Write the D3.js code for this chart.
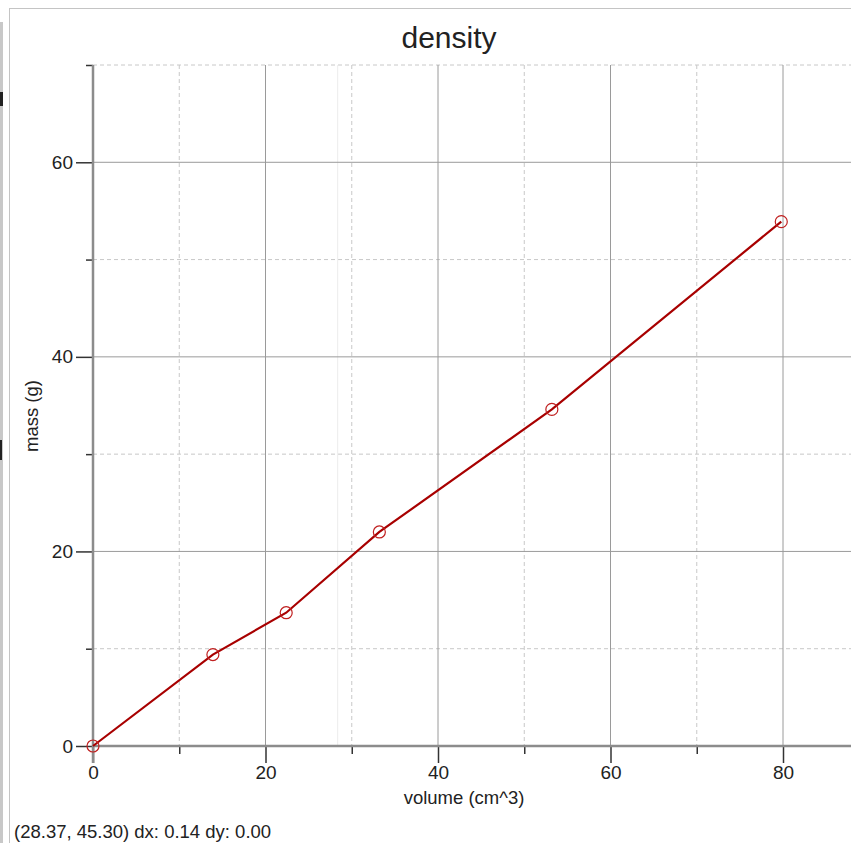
<!DOCTYPE html>
<html lang="en">
<head>
    <meta charset="UTF-8">
    <title>density</title>
    <script src="https://d3js.org/d3.v7.min.js"></script>
    <style>
        body { margin: 0; background: #fff; }
        text { font-family: "Liberation Sans", Arial, sans-serif; fill: #222; }
    </style>
</head>
<body>
    <svg width="851" height="843"></svg>

    <script>
        // Data
        const volume = [0, 13.9, 22.4, 33.2, 53.2, 79.8];
        const mass = [0, 9.4, 13.7, 22.0, 34.6, 53.9];
        const xMajorTicks = [0, 20, 40, 60, 80];
        const xMinorTicks = [10, 30, 50, 70];
        const yMajorTicks = [0, 20, 40, 60];
        const yMinorTicks = [10, 30, 50, 70];
        const cursor = [28.37, 45.30];
        const statusText = "(28.37, 45.30) dx: 0.14 dy: 0.00";

        const svg = d3.select("svg");
        const plotLeft = 93, plotBottom = 746, plotTop = 65, plotRight = 851;

        const x = d3.scaleLinear().domain([0, 20]).range([plotLeft, 265.5]);
        const y = d3.scaleLinear().domain([0, 70]).range([plotBottom, plotTop]);

        // window frame
        svg.append("rect").attr("x", 0).attr("y", 22).attr("width", 3).attr("height", 821).attr("fill", "#c8c8c8");
        svg.append("rect").attr("x", 0).attr("y", 92).attr("width", 3).attr("height", 14).attr("fill", "#222");
        svg.append("rect").attr("x", 0).attr("y", 440).attr("width", 2).attr("height", 20).attr("fill", "#222");
        svg.append("line").attr("x1", 9).attr("x2", 851).attr("y1", 8.5).attr("y2", 8.5).attr("stroke", "#c4c4c4");
        svg.append("line").attr("x1", 9.5).attr("x2", 9.5).attr("y1", 8).attr("y2", 843).attr("stroke", "#c4c4c4");

        // minor grid (dashed)
        const grid = svg.append("g");
        grid.selectAll(".vminor").data(xMinorTicks).enter().append("line").attr("class", "vminor")
            .attr("x1", d => x(d)).attr("x2", d => x(d)).attr("y1", plotTop).attr("y2", plotBottom)
            .attr("stroke", "#c8c8c8").attr("stroke-dasharray", "4,3");
        grid.selectAll(".hminor").data(yMinorTicks).enter().append("line").attr("class", "hminor")
            .attr("x1", plotLeft).attr("x2", plotRight).attr("y1", d => y(d)).attr("y2", d => y(d))
            .attr("stroke", "#c8c8c8").attr("stroke-dasharray", "4,3");

        // cursor line
        grid.append("line").attr("x1", x(cursor[0])).attr("x2", x(cursor[0]))
            .attr("y1", plotTop).attr("y2", plotBottom).attr("stroke", "#ececec");

        // major grid (solid)
        grid.selectAll(".vmajor").data(xMajorTicks.filter(d => d > 0)).enter().append("line").attr("class", "vmajor")
            .attr("x1", d => x(d)).attr("x2", d => x(d)).attr("y1", plotTop).attr("y2", plotBottom)
            .attr("stroke", "#9a9a9a");
        grid.selectAll(".hmajor").data(yMajorTicks.filter(d => d > 0)).enter().append("line").attr("class", "hmajor")
            .attr("x1", plotLeft).attr("x2", plotRight).attr("y1", d => y(d)).attr("y2", d => y(d))
            .attr("stroke", "#9a9a9a");

        // axes
        const xAxis = svg.append("g").attr("transform", `translate(0,${plotBottom})`);
        xAxis.call(d3.axisBottom(x).tickValues(xMajorTicks).tickSize(17).tickPadding(3).tickFormat(d3.format("d")));
        xAxis.append("g").call(d3.axisBottom(x).tickValues(xMinorTicks).tickSize(8).tickFormat(""));
        xAxis.selectAll(".domain").remove();
        xAxis.append("line").attr("x1", plotLeft).attr("x2", plotRight).attr("stroke", "#8c8c8c").attr("stroke-width", 2.5);

        const yAxis = svg.append("g").attr("transform", `translate(${plotLeft},0)`);
        yAxis.call(d3.axisLeft(y).tickValues(yMajorTicks).tickSize(17).tickPadding(3).tickFormat(d3.format("d")));
        yAxis.append("g").call(d3.axisLeft(y).tickValues(yMinorTicks).tickSize(7).tickFormat(""));
        yAxis.selectAll(".domain").remove();
        yAxis.append("line").attr("y1", plotTop).attr("y2", plotBottom + 17).attr("stroke", "#8c8c8c").attr("stroke-width", 2.5);

        svg.selectAll(".tick line").attr("stroke", "#333").attr("stroke-width", 1.5);
        svg.selectAll(".tick text").attr("font-size", 19).attr("fill", "#222")
            .attr("font-family", "'Liberation Sans', Arial, sans-serif");

        // data line and markers
        const pts = volume.map((v, i) => [v, mass[i]]);
        svg.append("path").datum(pts)
            .attr("fill", "none").attr("stroke", "#a80000").attr("stroke-width", 2.2)
            .attr("d", d3.line().x(d => x(d[0])).y(d => y(d[1])));
        svg.selectAll(".pt").data(pts).enter().append("circle").attr("class", "pt")
            .attr("cx", d => x(d[0])).attr("cy", d => y(d[1])).attr("r", 6)
            .attr("fill", "none").attr("stroke", "#c02020").attr("stroke-width", 1.2);

        // titles
        svg.append("text").attr("x", 449).attr("y", 48).attr("text-anchor", "middle")
            .attr("font-size", 30).text("density");
        svg.append("text").attr("x", 464).attr("y", 804).attr("text-anchor", "middle")
            .attr("font-size", 18.5).text("volume (cm^3)");
        svg.append("text").attr("transform", "translate(38,416) rotate(-90)").attr("text-anchor", "middle")
            .attr("font-size", 18.5).text("mass (g)");
        svg.append("text").attr("x", 14).attr("y", 838).attr("font-size", 18.5).text(statusText);
    </script>
</body>
</html>
